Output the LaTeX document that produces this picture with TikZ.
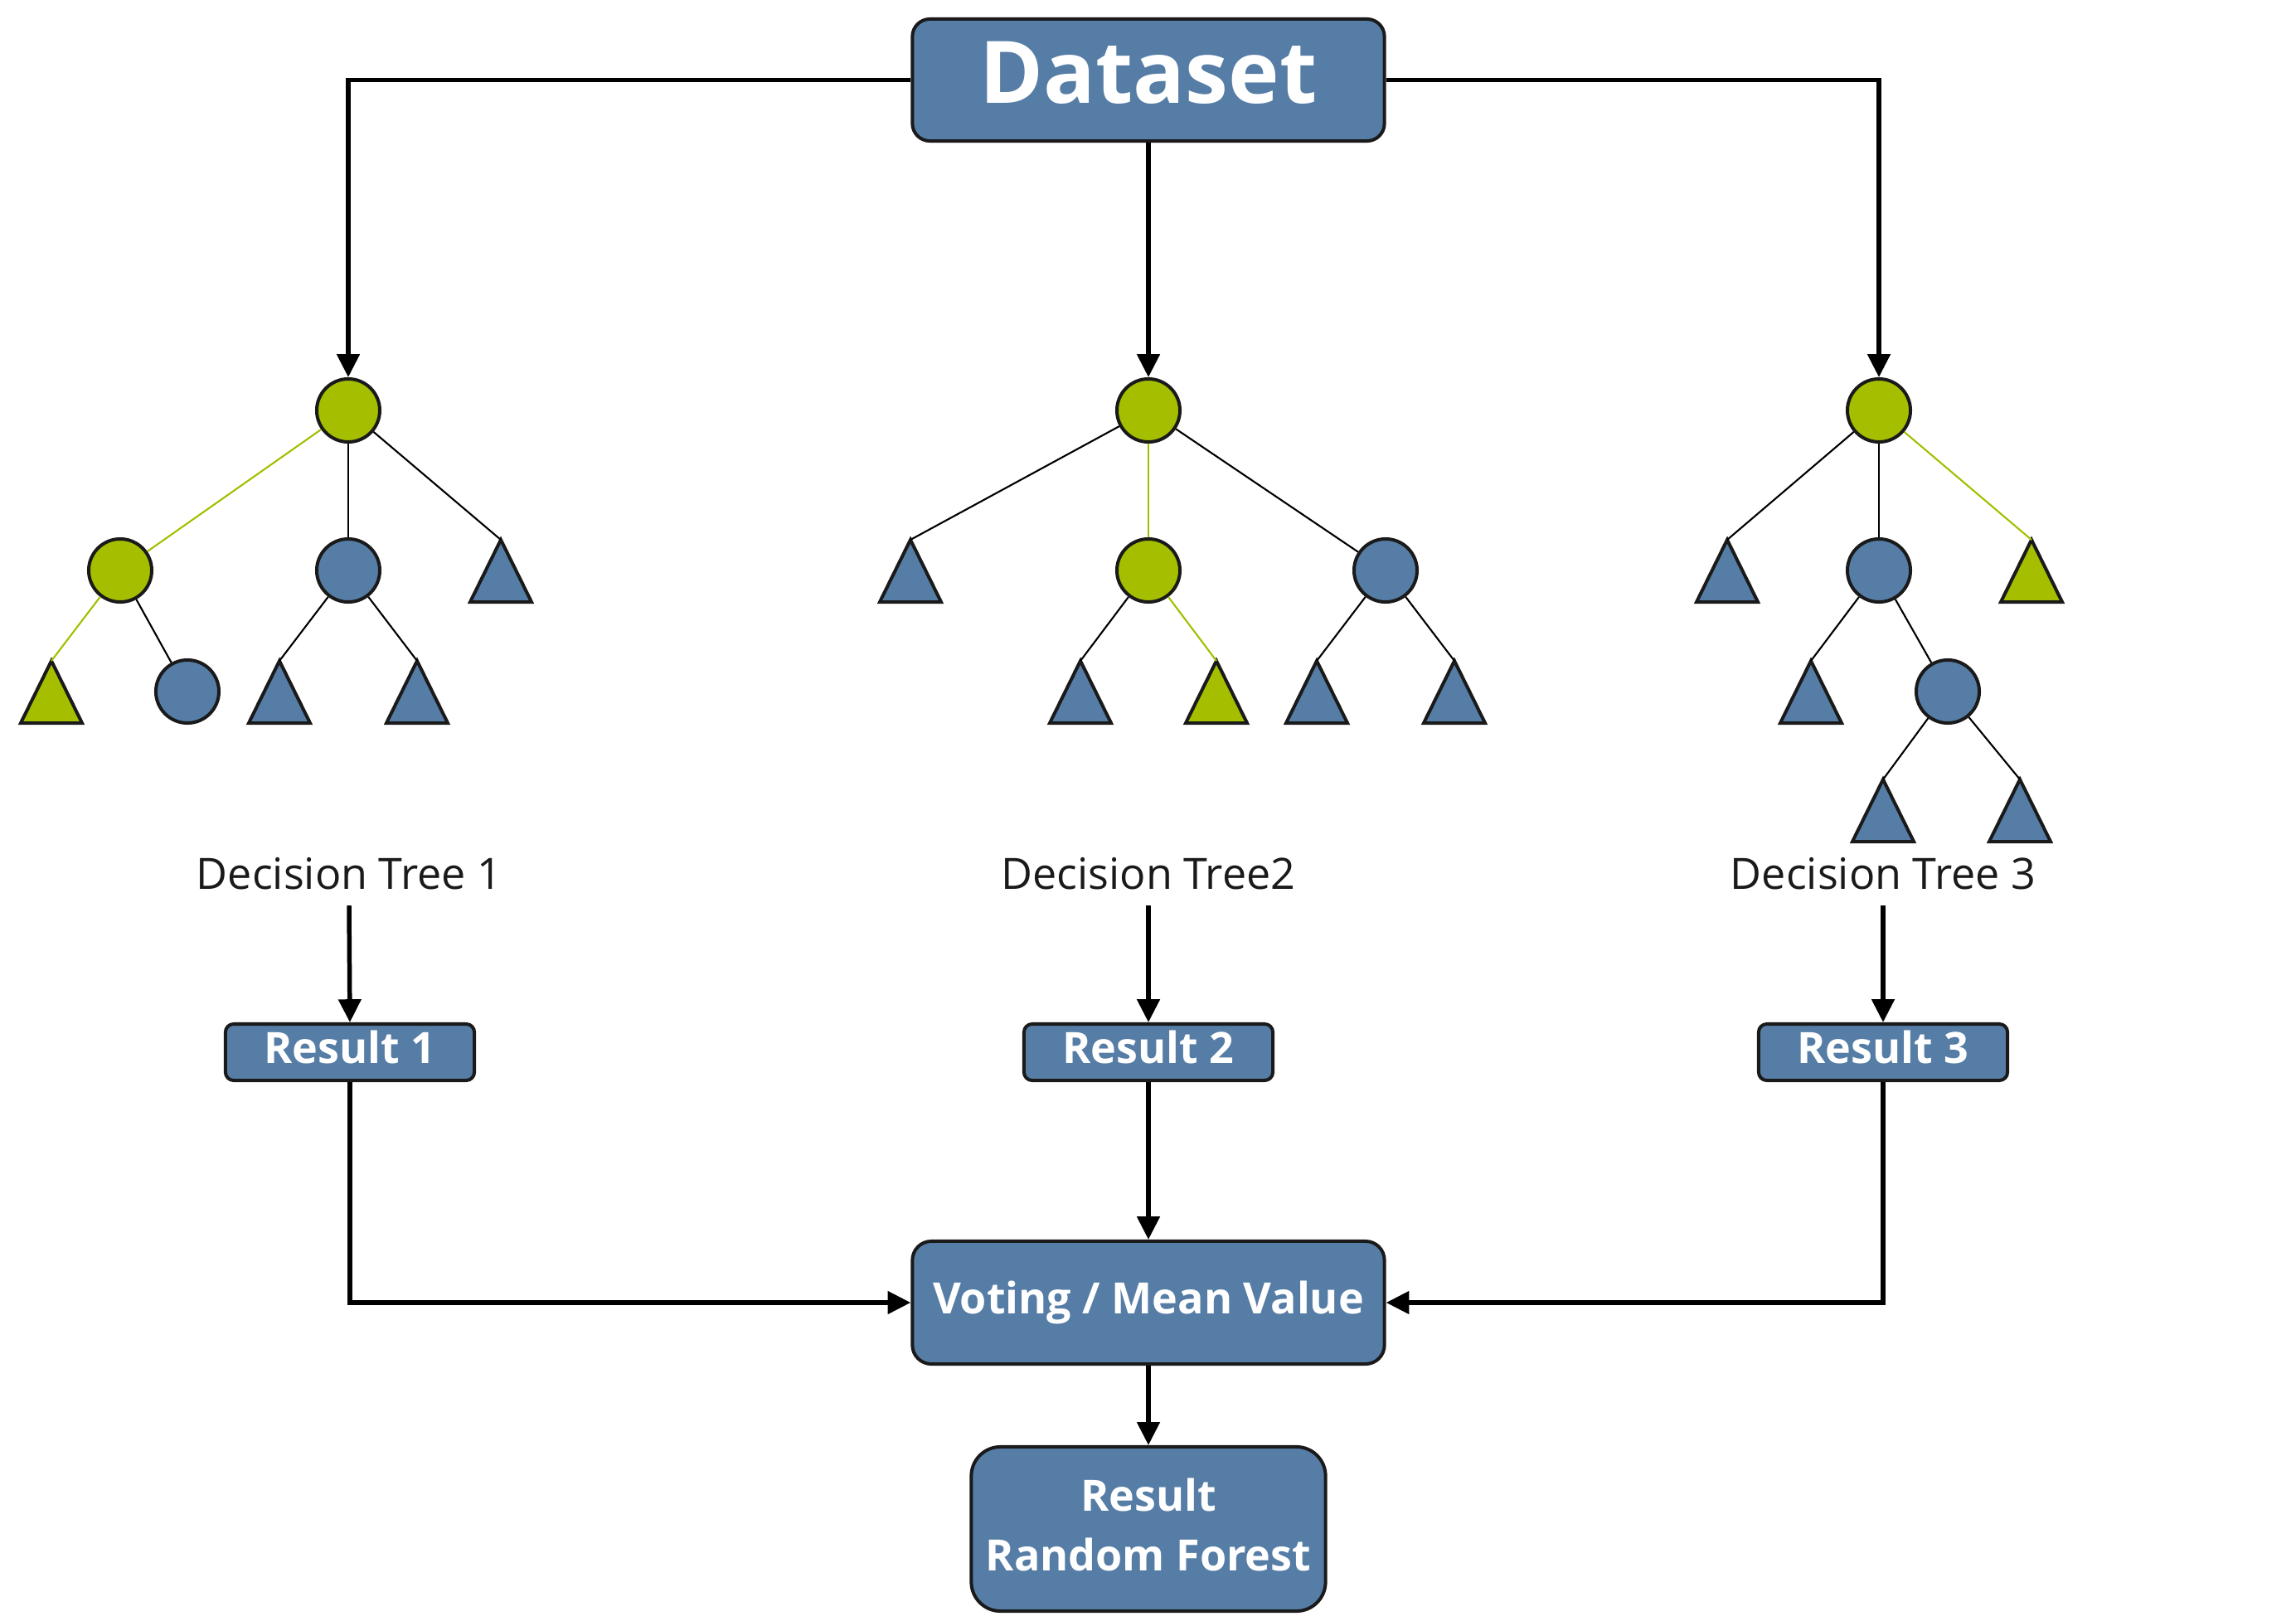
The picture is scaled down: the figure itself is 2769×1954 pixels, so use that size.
\documentclass[tikz,border=0pt]{standalone}
\usepackage{fontspec}
\setmainfont{Open Sans}
\usetikzlibrary{arrows.meta}
\definecolor{rfblue}{RGB}{86,125,166}
\definecolor{rfgreen}{RGB}{165,190,0}
\definecolor{rfline}{RGB}{26,26,26}
\newcommand{\rftri}[4]{%
  \draw[tripath, fill=#4] (#2,#3-37) -- (#2+37,#3+38) -- (#2-37,#3+38) -- cycle;
  \coordinate (#1) at (#2,#3-37);
}
\begin{document}
\begin{tikzpicture}[x=0.01cm, y=-0.01cm,
  rfnode/.style={circle, draw=rfline, line width=1.14pt, minimum size=0.76cm, inner sep=0pt},
  tripath/.style={draw=rfline, line width=1.14pt, line join=miter},
  tedge/.style={line width=0.6pt, draw=black},
  gedge/.style={line width=0.6pt, draw=rfgreen},
  arr/.style={line width=1.56pt, draw=black, -{Triangle[width=7.6pt,length=7.9pt]}},
  box/.style={draw=rfline, fill=rfblue, line width=1.14pt, text=white, inner sep=0pt,
    font=\fontsize{14.8pt}{18pt}\selectfont\bfseries, text height=11.3pt, text depth=3.55pt},
  lab/.style={anchor=base, inner sep=5.4pt, text=rfline, font=\fontsize{14.8pt}{18pt}\selectfont}
]
\fill[white] (0,0) rectangle (2769,1954);
\useasboundingbox (0,0) rectangle (2769,1954);

% boxes
\node[box, rounded corners=6pt, minimum width=5.69cm, minimum height=1.47cm,
  text height=22.5pt, text depth=6.8pt,
  font=\fontsize{29.6pt}{34pt}\selectfont\bfseries] (ds) at (1385,96.5) {Dataset};
\node[box, rounded corners=2.8pt, minimum width=3.0cm, minimum height=0.68cm] (res1) at (422,1269) {Result 1};
\node[box, rounded corners=2.8pt, minimum width=3.0cm, minimum height=0.68cm] (res2) at (1385,1269) {Result 2};
\node[box, rounded corners=2.8pt, minimum width=3.0cm, minimum height=0.68cm] (res3) at (2271,1269) {Result 3};
\node[box, rounded corners=6.5pt, minimum width=5.69cm, minimum height=1.48cm] (vote) at (1385,1571) {Voting / Mean Value};
\node[box, rounded corners=10pt, minimum width=4.27cm, minimum height=1.98cm, align=center,
  text height=, text depth=, font=\fontsize{14.8pt}{20.5pt}\selectfont\bfseries] (final) at (1385,1844) {Result\\Random Forest\rule[-3pt]{0pt}{3pt}};

% tree 1
\node[rfnode, fill=rfgreen] (r1) at (420,495) {};
\node[rfnode, fill=rfgreen] (a1) at (145,688) {};
\node[rfnode, fill=rfblue] (b1) at (420,688) {};
\node[rfnode, fill=rfblue] (c1) at (226,834) {};
\rftri{t1}{604}{688}{rfblue}
\rftri{t2}{62}{834}{rfgreen}
\rftri{t3}{337}{834}{rfblue}
\rftri{t4}{503}{834}{rfblue}
\draw[gedge] (r1) -- (a1);
\draw[tedge] (r1) -- (b1);
\draw[tedge] (r1) -- (t1);
\draw[gedge] (a1) -- (t2);
\draw[tedge] (a1) -- (c1);
\draw[tedge] (b1) -- (t3);
\draw[tedge] (b1) -- (t4);

% tree 2
\node[rfnode, fill=rfgreen] (r2) at (1385,495) {};
\node[rfnode, fill=rfgreen] (a2) at (1385,688) {};
\node[rfnode, fill=rfblue] (b2) at (1671,688) {};
\rftri{t5}{1098}{688}{rfblue}
\rftri{t6}{1303}{834}{rfblue}
\rftri{t7}{1467}{834}{rfgreen}
\rftri{t8}{1588}{834}{rfblue}
\rftri{t9}{1754}{834}{rfblue}
\draw[tedge] (r2) -- (t5);
\draw[gedge] (r2) -- (a2);
\draw[tedge] (r2) -- (b2);
\draw[tedge] (a2) -- (t6);
\draw[gedge] (a2) -- (t7);
\draw[tedge] (b2) -- (t8);
\draw[tedge] (b2) -- (t9);

% tree 3
\node[rfnode, fill=rfgreen] (r3) at (2266,495) {};
\node[rfnode, fill=rfblue] (b3) at (2266,688) {};
\node[rfnode, fill=rfblue] (c3) at (2349,834) {};
\rftri{t10}{2083}{688}{rfblue}
\rftri{t11}{2450}{688}{rfgreen}
\rftri{t12}{2184}{834}{rfblue}
\rftri{t13}{2271}{977}{rfblue}
\rftri{t14}{2436}{977}{rfblue}
\draw[tedge] (r3) -- (t10);
\draw[tedge] (r3) -- (b3);
\draw[gedge] (r3) -- (t11);
\draw[tedge] (b3) -- (t12);
\draw[tedge] (b3) -- (c3);
\draw[tedge] (c3) -- (t13);
\draw[tedge] (c3) -- (t14);

% labels
\node[lab] (l1) at (421,1072) {Decision Tree 1};
\node[lab] (l2) at (1385,1072) {Decision Tree2};
\node[lab] (l3) at (2271,1072) {Decision Tree 3};

% arrows
\draw[arr] (ds.west) -| (r1.north);
\draw[arr] (ds.south) -- (r2.north);
\draw[arr] (ds.east) -| (r3.north);
\draw[arr] (l1.south) -- (res1.north);
\draw[arr] (l2.south) -- (res2.north);
\draw[arr] (l3.south) -- (res3.north);
\draw[arr] (res1.south) |- (vote.west);
\draw[arr] (res2.south) -- (vote.north);
\draw[arr] (res3.south) |- (vote.east);
\draw[arr] (vote.south) -- (final.north);
\end{tikzpicture}
\end{document}
